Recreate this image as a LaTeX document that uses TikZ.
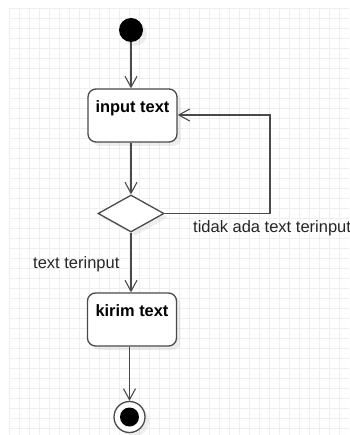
\documentclass[tikz,border=0pt]{standalone}
\usepackage{fontspec}
\setmainfont{Liberation Sans}
\usetikzlibrary{shapes.geometric,arrows.meta,shadows,calc}
\definecolor{linec}{HTML}{4A4A4A}
\definecolor{gridc}{HTML}{EFEFEF}
\tikzset{
  gridline/.style={draw=gridc,line width=0.9pt},
  flow/.style={draw=linec,line width=1.3pt,-{Straight Barb[length=11pt,width=12pt,line width=1.1pt]}},
  plain/.style={draw=linec,line width=1.3pt},
  softshadow/.style={drop shadow={opacity=0.13,shadow xshift=4pt,shadow yshift=-4pt}},
  actbox/.style={draw=linec,line width=1.3pt,fill=white,rounded corners=8pt,minimum width=89pt,minimum height=53pt,inner sep=0pt,softshadow},
  boxtext/.style={font=\fontsize{16.4}{19}\selectfont\bfseries,inner sep=0pt,anchor=base},
  edgetext/.style={font=\fontsize{16.5}{19}\selectfont,inner sep=0pt,anchor=base west,text=black!85},
}
\begin{document}
\begin{tikzpicture}[x=1pt,y=-1pt]
\useasboundingbox[fill=white] (0,0) rectangle (349,435);
\clip (0,0) rectangle (349,435);
% grid
\foreach \gx in {9.5,19.5,...,349.5} \draw[gridline] (\gx,8.5) -- (\gx,435);
\foreach \gy in {8.5,18.5,...,435} \draw[gridline] (9.5,\gy) -- (349,\gy);
% nodes
\node[circle,fill=black,minimum size=24pt,inner sep=0pt,softshadow] (start) at (131,30) {};
\node[actbox] (input) at (132.5,115.5) {};
\node[boxtext] (inputlbl) at ([yshift=-24pt]input.north) {input text};
\node[diamond,draw=linec,line width=1.3pt,fill=white,minimum width=66pt,minimum height=37pt,inner sep=0pt,softshadow] (dec) at (131,213.5) {};
\node[actbox] (kirim) at (132,319.5) {};
\node[boxtext] (kirimlbl) at ([yshift=-24pt]kirim.north) {kirim text};
\node[circle,draw=linec,line width=1.3pt,fill=white,minimum size=31pt,inner sep=0pt,softshadow] (final) at (129.5,417) {};
\node[circle,fill=black,minimum size=19pt,inner sep=0pt] (finaldot) at (final) {};
% connectors
\coordinate (loopA) at (270,213.5);
\coordinate (loopB) at (270,115);
\draw[flow] (start) -- (start |- input.north);
\draw[flow] (input.south -| dec) -- (dec.north);
\draw[flow] (dec.east) -- (loopA) -- (loopB) -- (loopB -| input.east);
\draw[flow] (dec.south) -- (dec.south |- kirim.north);
\draw[flow] (kirim.south -| final) -- (final.north);
% edge labels
\node[edgetext] (nolbl) at (193,232) {tidak ada text terinput};
\node[edgetext] (yeslbl) at (33,268) {text terinput};
\end{tikzpicture}
\end{document}
